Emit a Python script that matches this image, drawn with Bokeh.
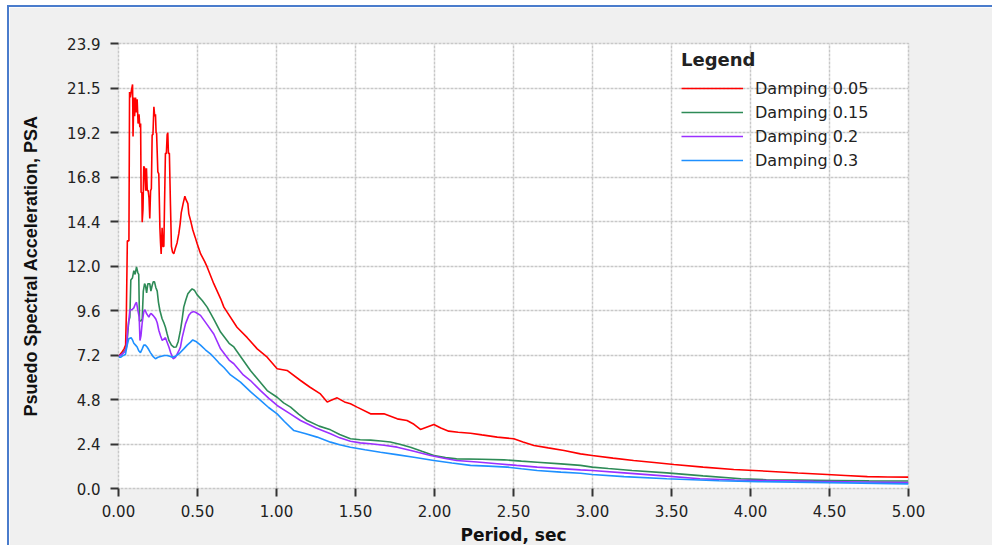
from bokeh.plotting import figure
from bokeh.models import Range1d, FixedTicker, Legend, LegendItem
from bokeh.embed import file_html
from bokeh.resources import INLINE

# ---------------- data ----------------
period_005 = [0.0, 0.02, 0.035, 0.045, 0.050, 0.056, 0.066, 0.070, 0.075, 0.080, 0.089, 0.092,
              0.097, 0.102, 0.108, 0.113, 0.118, 0.124, 0.130, 0.135, 0.140, 0.143, 0.148, 0.150,
              0.155, 0.160, 0.166, 0.172, 0.177, 0.182, 0.188, 0.193, 0.198, 0.203, 0.208, 0.213,
              0.218, 0.224, 0.229, 0.234, 0.238, 0.241, 0.249, 0.255, 0.262, 0.266, 0.270, 0.276,
              0.281, 0.287, 0.291, 0.297, 0.303, 0.308, 0.312, 0.316, 0.322, 0.329, 0.335, 0.342,
              0.350, 0.360, 0.371, 0.382, 0.390, 0.397, 0.409, 0.420, 0.428, 0.439, 0.445, 0.456,
              0.470, 0.485, 0.498, 0.520, 0.545, 0.561, 0.603, 0.646, 0.667, 0.750, 0.815, 0.878,
              0.941, 1.004, 1.067, 1.152, 1.210, 1.278, 1.321, 1.342, 1.384, 1.430, 1.468, 1.510,
              1.595, 1.680, 1.764, 1.826, 1.870, 1.911, 1.996, 2.040, 2.090, 2.150, 2.228, 2.300,
              2.397, 2.502, 2.560, 2.630, 2.720, 2.820, 2.924, 2.998, 3.130, 3.260, 3.390, 3.515,
              3.700, 3.894, 4.105, 4.300, 4.485, 4.600, 4.740, 4.870, 5.000]
psa_005 = [7.1, 7.3, 7.5, 7.7, 9.5, 13.3, 13.3, 21.3, 21.0, 21.3, 21.7, 18.9,
           21.0, 20.0, 21.0, 20.2, 20.9, 19.6, 20.1, 19.4, 19.6, 15.9, 15.9, 14.3,
           15.0, 17.3, 17.2, 16.0, 17.2, 16.0, 16.0, 15.6, 14.5, 16.0, 16.1, 19.0,
           19.0, 20.5, 20.0, 20.1, 19.1, 19.1, 17.0, 16.9, 14.0, 13.2, 12.6, 14.0,
           13.0, 13.0, 15.1, 18.0, 18.0, 19.0, 19.1, 18.0, 18.0, 15.2, 13.0, 12.7,
           12.6, 12.9, 13.2, 13.7, 14.2, 14.8, 15.3, 15.7, 15.5, 15.3, 14.75, 14.4,
           13.9, 13.5, 13.14, 12.6, 12.2, 11.9, 11.0, 10.2, 9.74, 8.66, 8.1, 7.5,
           7.05, 6.43, 6.34, 5.8, 5.45, 5.08, 4.64, 4.73, 4.87, 4.65, 4.55, 4.37,
           4.01, 4.01, 3.74, 3.65, 3.45, 3.17, 3.44, 3.25, 3.08, 3.02, 2.97, 2.88,
           2.76, 2.67, 2.50, 2.31, 2.18, 2.04, 1.86, 1.77, 1.63, 1.50, 1.40, 1.29,
           1.15, 1.02, 0.93, 0.83, 0.75, 0.70, 0.64, 0.62, 0.61]

period_015 = [0.0, 0.02, 0.04, 0.05, 0.055, 0.065, 0.072, 0.078, 0.088, 0.097, 0.105, 0.114,
              0.122, 0.128, 0.133, 0.142, 0.150, 0.157, 0.165, 0.171, 0.178, 0.186, 0.198, 0.205,
              0.213, 0.220, 0.228, 0.236, 0.245, 0.253, 0.262, 0.276, 0.287, 0.297, 0.308, 0.319,
              0.335, 0.350, 0.365, 0.378, 0.392, 0.403, 0.413, 0.425, 0.439, 0.452, 0.466, 0.480,
              0.498, 0.530, 0.561, 0.603, 0.646, 0.700, 0.730, 0.835, 0.941, 1.004, 1.045, 1.089,
              1.140, 1.194, 1.270, 1.342, 1.400, 1.468, 1.530, 1.595, 1.660, 1.720, 1.780, 1.848,
              1.920, 1.996, 2.070, 2.140, 2.300, 2.440, 2.550, 2.650, 2.800, 2.924, 2.998, 3.100,
              3.250, 3.470, 3.700, 3.940, 4.100, 4.300, 4.530, 4.750, 5.000]
psa_015 = [7.1, 7.2, 7.4, 7.6, 7.95, 9.0, 9.2, 11.2, 11.3, 11.7, 11.5, 11.9,
           11.6, 11.5, 9.0, 9.0, 9.1, 10.6, 11.0, 10.9, 10.5, 11.0, 11.0, 10.6,
           10.9, 11.1, 11.1, 10.8, 10.6, 10.0, 9.56, 9.12, 8.9, 8.66, 8.3, 7.95,
           7.7, 7.59, 7.6, 7.9, 8.49, 9.1, 9.74, 10.1, 10.46, 10.6, 10.72, 10.65,
           10.4, 10.1, 9.74, 9.1, 8.4, 7.8, 7.6, 6.34, 5.26, 4.9, 4.6, 4.37,
           4.0, 3.65, 3.35, 3.15, 2.9, 2.67, 2.62, 2.6, 2.55, 2.5, 2.38, 2.22,
           2.0, 1.77, 1.66, 1.59, 1.57, 1.54, 1.47, 1.41, 1.32, 1.24, 1.15, 1.07,
           0.97, 0.84, 0.68, 0.52, 0.47, 0.45, 0.43, 0.41, 0.40]

period_02 = [0.0, 0.02, 0.04, 0.05, 0.058, 0.065, 0.072, 0.085, 0.097, 0.106, 0.114, 0.122,
             0.131, 0.136, 0.142, 0.150, 0.160, 0.168, 0.177, 0.185, 0.192, 0.200, 0.207, 0.218,
             0.228, 0.236, 0.245, 0.255, 0.266, 0.277, 0.297, 0.319, 0.330, 0.346, 0.360, 0.370,
             0.382, 0.392, 0.403, 0.424, 0.445, 0.460, 0.477, 0.490, 0.519, 0.561, 0.603, 0.646,
             0.700, 0.730, 0.790, 0.835, 0.899, 0.950, 1.004, 1.080, 1.152, 1.250, 1.342, 1.400,
             1.468, 1.530, 1.595, 1.680, 1.764, 1.870, 1.975, 2.060, 2.140, 2.270, 2.397, 2.520,
             2.650, 2.800, 2.924, 2.998, 3.200, 3.450, 3.680, 3.900, 4.100, 4.400, 4.700, 5.000]
psa_02 = [7.1, 7.2, 7.35, 7.6, 8.5, 9.0, 9.6, 9.6, 9.7, 9.9, 10.0, 9.6,
          9.2, 7.95, 8.2, 8.9, 9.5, 9.6, 9.4, 9.3, 9.2, 9.35, 9.4, 9.3,
          9.2, 9.1, 8.9, 8.5, 8.2, 7.95, 8.1, 7.6, 7.3, 6.97, 7.05, 7.2,
          7.4, 7.59, 8.1, 8.84, 9.3, 9.45, 9.5, 9.45, 9.3, 8.8, 8.3, 7.5,
          6.9, 6.7, 6.1, 5.8, 5.26, 4.85, 4.46, 4.05, 3.65, 3.25, 2.94, 2.72,
          2.54, 2.45, 2.4, 2.32, 2.22, 2.0, 1.77, 1.62, 1.5, 1.42, 1.33, 1.24,
          1.15, 1.07, 1.0, 0.97, 0.84, 0.68, 0.52, 0.46, 0.43, 0.38, 0.35, 0.32]

period_03 = [0.0, 0.013, 0.03, 0.044, 0.055, 0.065, 0.080, 0.090, 0.097, 0.108, 0.118, 0.128,
             0.139, 0.150, 0.160, 0.170, 0.181, 0.192, 0.202, 0.218, 0.234, 0.250, 0.266, 0.290,
             0.308, 0.325, 0.340, 0.360, 0.385, 0.413, 0.435, 0.456, 0.470, 0.490, 0.519, 0.550,
             0.582, 0.603, 0.635, 0.667, 0.709, 0.772, 0.835, 0.899, 0.950, 1.004, 1.050, 1.110,
             1.180, 1.257, 1.342, 1.400, 1.468, 1.560, 1.658, 1.760, 1.869, 1.996, 2.110, 2.228,
             2.340, 2.460, 2.550, 2.650, 2.800, 2.924, 2.998, 3.200, 3.470, 3.800, 4.050, 4.270,
             4.600, 5.000]
psa_03 = [7.05, 7.05, 7.15, 7.2, 7.7, 8.04, 8.1, 7.95, 7.8, 7.7, 7.6, 7.4,
          7.3, 7.5, 7.7, 7.7, 7.6, 7.45, 7.3, 7.1, 6.97, 7.05, 7.09, 7.14,
          7.14, 7.1, 7.05, 7.1, 7.25, 7.5, 7.7, 7.86, 7.98, 7.9, 7.7, 7.45,
          7.23, 7.05, 6.75, 6.5, 6.1, 5.71, 5.2, 4.73, 4.35, 4.01, 3.6, 3.11,
          2.95, 2.76, 2.49, 2.35, 2.22, 2.08, 1.95, 1.82, 1.68, 1.5, 1.37, 1.24,
          1.2, 1.15, 1.06, 0.97, 0.88, 0.82, 0.75, 0.64, 0.52, 0.42, 0.37, 0.34,
          0.30, 0.25]

series_names = ["Damping 0.05", "Damping 0.15", "Damping 0.2", "Damping 0.3"]
series_colors = ["#ff0000", "#2e8b57", "#9b30ff", "#1e90ff"]

x_ticks = [0.0, 0.5, 1.0, 1.5, 2.0, 2.5, 3.0, 3.5, 4.0, 4.5, 5.0]
x_tick_labels = ["0.00", "0.50", "1.00", "1.50", "2.00", "2.50", "3.00", "3.50", "4.00", "4.50", "5.00"]
y_ticks = [0.0, 2.39, 4.78, 7.17, 9.56, 11.95, 14.34, 16.73, 19.12, 21.51, 23.9]
y_tick_labels = ["0.0", "2.4", "4.8", "7.2", "9.6", "12.0", "14.4", "16.8", "19.2", "21.5", "23.9"]

# ---------------- figure ----------------
p = figure(width=985, height=540, output_backend="svg", toolbar_location=None,
           x_range=Range1d(0, 5), y_range=Range1d(0, 23.9),
           min_border_left=109, min_border_right=86, min_border_top=36, min_border_bottom=59)
p.margin = (5, 0, 0, 7)
p.styles = {"border-left": "2px solid #4a7ccc", "border-top": "2px solid #4a7ccc"}

p.border_fill_color = "#f0f0f0"
p.background_fill_color = "#ffffff"
p.outline_line_color = "#c8c8c8"
p.outline_line_width = 1.5
p.outline_line_dash = "3 1"

for ax in (p.xaxis[0], p.yaxis[0]):
    ax.axis_line_color = None
    ax.major_tick_line_color = "#333333"
    ax.major_tick_line_width = 2
    ax.major_tick_out = 8
    ax.major_tick_in = 0
    ax.minor_tick_line_color = None
    ax.major_label_text_font = "DejaVu Sans"
    ax.major_label_text_font_size = "15px"
    ax.major_label_text_color = "#222222"
    ax.axis_label_text_font_style = "bold"
    ax.axis_label_text_color = "#111111"

p.xaxis.ticker = FixedTicker(ticks=x_ticks)
p.yaxis.ticker = FixedTicker(ticks=y_ticks)
p.xaxis.major_label_overrides = dict(zip(x_ticks, x_tick_labels))
p.yaxis.major_label_overrides = dict(zip(y_ticks, y_tick_labels))
p.xaxis.major_label_standoff = 8
p.yaxis.major_label_standoff = 10

p.xaxis.axis_label = "Period, sec"
p.xaxis.axis_label_text_font = "DejaVu Sans"
p.xaxis.axis_label_text_font_size = "17px"
p.xaxis.axis_label_standoff = 5
p.yaxis.axis_label = "Psuedo Spectral Acceleration, PSA"
p.yaxis.axis_label_text_font = "Liberation Sans"
p.yaxis.axis_label_text_font_size = "18px"
p.yaxis.axis_label_standoff = 23

p.xgrid.ticker = FixedTicker(ticks=x_ticks)
p.ygrid.ticker = FixedTicker(ticks=y_ticks)
p.grid.grid_line_color = "#c8c8c8"
p.grid.grid_line_width = 1.5
p.grid.grid_line_dash = "3 1"

renderers = []
for xs, ys, c in zip([period_005, period_015, period_02, period_03],
                     [psa_005, psa_015, psa_02, psa_03], series_colors):
    renderers.append(p.line(xs, ys, line_color=c, line_width=1.6))

legend = Legend(items=[LegendItem(label=n, renderers=[r]) for n, r in zip(series_names, renderers)],
                location=(563, 318), title="Legend",
                title_text_font="DejaVu Sans", title_text_font_style="bold",
                title_text_font_size="18px", title_text_color="#222222", title_standoff=8,
                label_text_font="DejaVu Sans", label_text_font_size="16px",
                label_text_color="#222222",
                glyph_width=62, glyph_height=20, label_height=20, label_standoff=12,
                spacing=4, padding=0, margin=0,
                background_fill_alpha=0, border_line_alpha=0)
p.add_layout(legend)

open("out.html", "w").write(file_html(p, INLINE))
